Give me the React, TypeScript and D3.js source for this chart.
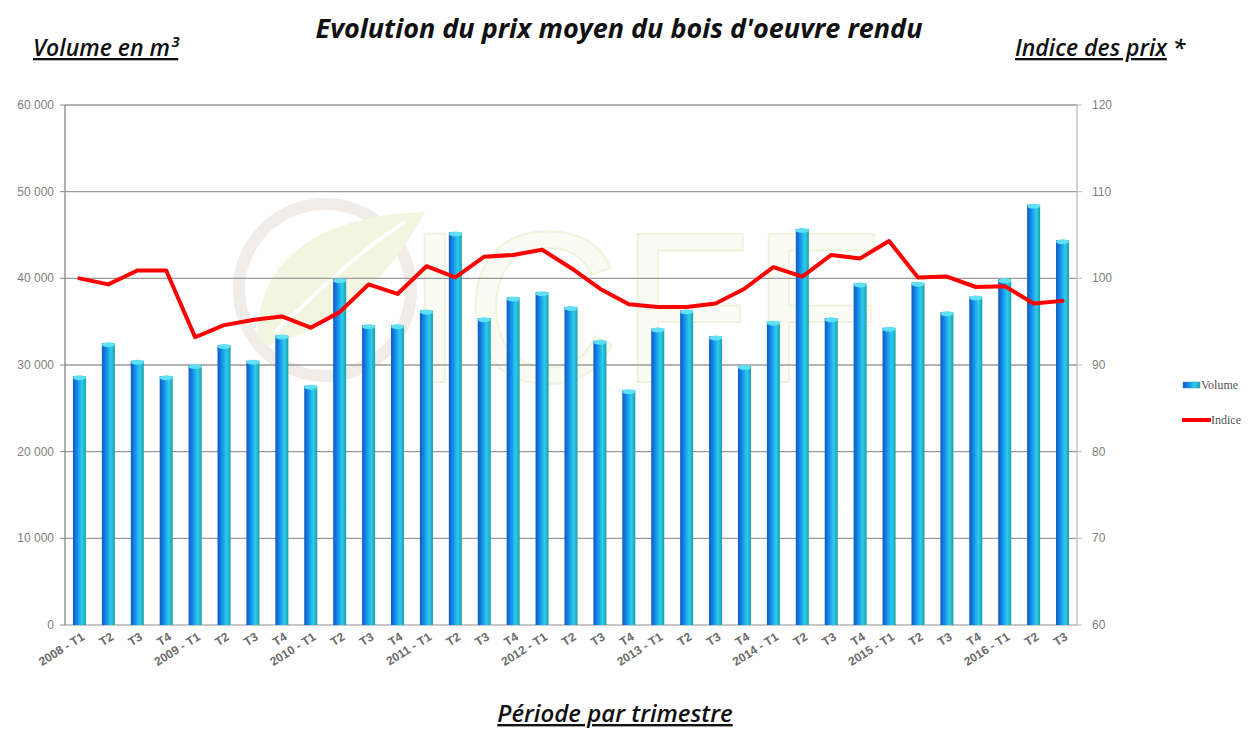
import React from "react";
import * as d3 from "d3";

// périodes (trimestres)
const periods = [
  "2008 - T1", "T2", "T3", "T4",
  "2009 - T1", "T2", "T3", "T4",
  "2010 - T1", "T2", "T3", "T4",
  "2011 - T1", "T2", "T3", "T4",
  "2012 - T1", "T2", "T3", "T4",
  "2013 - T1", "T2", "T3", "T4",
  "2014 - T1", "T2", "T3", "T4",
  "2015 - T1", "T2", "T3", "T4",
  "2016 - T1", "T2", "T3",
];

// volume en m3
const volume = [
  28700, 32500, 30500, 28700,
  30000, 32300, 30500, 33400,
  27600, 39900, 34600, 34600,
  36300, 45300, 35400, 37800,
  38400, 36700, 32800, 27100,
  34200, 36300, 33300, 29900,
  35000, 45700, 35400, 39400,
  34300, 39500, 36100, 37900,
  39900, 48500, 44400,
];

// indice des prix
const indice = [
  100.0, 99.3, 100.9, 100.9,
  93.2, 94.6, 95.2, 95.6,
  94.3, 96.1, 99.3, 98.2,
  101.4, 100.1, 102.5, 102.7,
  103.3, 101.2, 98.8, 97.0,
  96.7, 96.7, 97.1, 98.8,
  101.3, 100.2, 102.7, 102.3,
  104.3, 100.1, 100.2, 99.0,
  99.1, 97.1, 97.4,
];

const leftTicks = [0, 10000, 20000, 30000, 40000, 50000, 60000];
const rightTicks = [60, 70, 80, 90, 100, 110, 120];

const W = 1260;
const H = 733;
const left = 65;
const right = 1077;
const top = 105;
const bottom = 625;

const fmt = (v: number) => d3.format(",")(v).replace(/,/g, " ");

export default function App() {
  const x = d3
    .scaleBand<number>()
    .domain(periods.map((_, i) => i))
    .range([left, right])
    .paddingInner(0.55)
    .paddingOuter(0.275);
  const yL = d3.scaleLinear().domain([0, 60000]).range([bottom, top]);
  const yR = d3.scaleLinear().domain([60, 120]).range([bottom, top]);
  const bw = x.bandwidth();
  const cx = (i: number) => (x(i) as number) + bw / 2;

  const line = d3
    .line<number>()
    .x((_, i) => cx(i))
    .y((d) => yR(d));

  const titleFont = "'Open Sans', 'DejaVu Sans', sans-serif";

  return (
    <svg
      width={W}
      height={H}
      style={{ position: "absolute", left: 0, top: 0, background: "#fff" }}
    >
      <defs>
        <linearGradient id="barGrad" x1="0" x2="1" y1="0" y2="0">
          <stop offset="0" stopColor="#0d58c8" />
          <stop offset="0.3" stopColor="#1488e6" />
          <stop offset="0.7" stopColor="#2ccdee" />
          <stop offset="1" stopColor="#1a9fa8" />
        </linearGradient>
      </defs>

      {/* filigrane ICFF */}
      <g opacity={0.5}>
        <circle cx={325} cy={290} r={86} fill="none" stroke="#e4dbd0" strokeWidth={12} />
        <path
          d="M258,340 C255,260 320,215 425,212 C395,265 350,325 268,345 Z"
          fill="#e6edc0"
        />
        <path d="M275,332 C320,290 360,250 405,222" fill="none" stroke="#fff" strokeWidth={4} />
        <text
          x={405}
          y={382}
          fontFamily="'Liberation Sans', Arial, sans-serif"
          fontSize={215}
          fill="#f6f8e8"
          stroke="#e3ebbd"
          strokeWidth={2}
        >
          ICFF
        </text>
      </g>

      {/* grille */}
      {leftTicks.map((t) => (
        <line
          key={t}
          x1={left}
          x2={right}
          y1={yL(t)}
          y2={yL(t)}
          stroke={t === 0 ? "#c8c8c8" : "#9a9a9a"}
          strokeWidth={t === 0 ? 2 : 1.3}
        />
      ))}

      {/* axes verticaux */}
      <line x1={left} x2={left} y1={top} y2={bottom} stroke="#888" strokeWidth={1.3} />
      <line x1={right} x2={right} y1={top} y2={bottom} stroke="#bbb" strokeWidth={1.3} />
      {leftTicks.map((t) => (
        <g key={"l" + t}>
          <line x1={left - 5} x2={left} y1={yL(t)} y2={yL(t)} stroke="#888" />
          <text
            x={left - 11}
            y={yL(t) + 4}
            textAnchor="end"
            fontFamily="Arial, 'Liberation Sans', sans-serif"
            fontSize={12}
            fill="#808080"
          >
            {fmt(t)}
          </text>
        </g>
      ))}
      {rightTicks.map((t) => (
        <g key={"r" + t}>
          <line x1={right} x2={right + 5} y1={yR(t)} y2={yR(t)} stroke="#bbb" />
          <text
            x={right + 15}
            y={yR(t) + 4}
            fontFamily="Arial, 'Liberation Sans', sans-serif"
            fontSize={12}
            fill="#808080"
          >
            {t}
          </text>
        </g>
      ))}

      {/* barres */}
      {volume.map((v, i) => (
        <g key={i}>
          <rect
            x={x(i)}
            y={yL(v)}
            width={bw}
            height={bottom - yL(v)}
            fill="url(#barGrad)"
          />
          <ellipse cx={cx(i)} cy={yL(v) + 1.5} rx={bw / 2} ry={2.5} fill="#5fe0f5" />
        </g>
      ))}

      {/* indice */}
      <path
        d={line(indice) || ""}
        fill="none"
        stroke="#ff0000"
        strokeWidth={4}
        strokeLinejoin="round"
        strokeLinecap="round"
      />

      {/* libellés de l'axe x */}
      {periods.map((p, i) => (
        <g key={i} transform={`translate(${cx(i) + 6},${bottom + 14})`}>
          <text
            transform="rotate(-32)"
            textAnchor="end"
            fontFamily="Arial, 'Liberation Sans', sans-serif"
            fontSize={12}
            fontWeight="bold"
            fill="#6a6a6a"
          >
            {p}
          </text>
        </g>
      ))}

      {/* légende */}
      <rect x={1183} y={382} width={17} height={6} fill="url(#barGrad)" stroke="#3a8fc0" strokeWidth={0.5} />
      <text x={1201} y={389} fontFamily="'Liberation Serif', 'Times New Roman', serif" fontSize={12} fill="#555">
        Volume
      </text>
      <line x1={1182} x2={1211} y1={420} y2={420} stroke="#ff0000" strokeWidth={4} />
      <text x={1211} y={424} fontFamily="'Liberation Serif', 'Times New Roman', serif" fontSize={12} fill="#555">
        Indice
      </text>

      {/* titres */}
      <text
        x={619}
        y={38}
        textAnchor="middle"
        fontFamily={titleFont}
        fontSize={27}
        fontStyle="italic"
        fontWeight="bold"
        fill="#111"
      >
        Evolution du prix moyen du bois d'oeuvre rendu
      </text>
      <text
        x={33}
        y={56}
        fontFamily={titleFont}
        fontSize={23}
        fontStyle="italic"
        fontWeight={600}
        fill="#111"
        textDecoration="underline"
      >
        Volume en m³
      </text>
      <text
        x={1015}
        y={56}
        fontFamily={titleFont}
        fontSize={23}
        fontStyle="italic"
        fontWeight={600}
        fill="#111"
      >
        <tspan textDecoration="underline">Indice des prix</tspan>
        <tspan> *</tspan>
      </text>
      <text
        x={615}
        y={722}
        textAnchor="middle"
        fontFamily={titleFont}
        fontSize={24}
        fontStyle="italic"
        fontWeight={600}
        fill="#111"
        textDecoration="underline"
      >
        Période par trimestre
      </text>
    </svg>
  );
}
